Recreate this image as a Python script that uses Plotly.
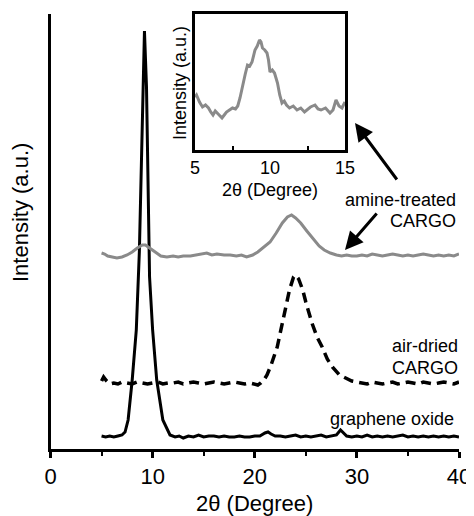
import plotly.graph_objects as go

# ---------------- data ----------------
# graphene oxide (solid black)
go_x = [5.0, 5.4, 5.8, 6.2, 6.6, 7.0, 7.3, 7.6, 8.0, 8.4, 8.7, 9.0, 9.2, 9.4, 9.55, 9.7,
        10.0, 10.4, 11.0, 11.7, 12.2, 12.6, 13.0, 13.5, 14.0, 14.5, 15.0, 15.5, 16.0,
        16.5, 17.0, 17.5, 18.0, 18.5, 19.0, 19.5, 20.0, 20.5, 21.0, 21.3, 21.6, 22.0,
        22.5, 23.0, 23.5, 24.0, 24.5, 25.0, 25.5, 26.0, 26.5, 27.0, 27.5, 28.0, 28.4,
        28.7, 29.0, 29.5, 30.0, 30.5, 31.0, 31.5, 32.0, 32.5, 33.0, 33.5, 34.0, 34.5,
        35.0, 35.5, 36.0, 36.5, 37.0, 37.5, 38.0, 38.5, 39.0, 39.5, 40.0]
go_y = [11, 10, 11, 10, 11, 12, 15, 27, 67, 117, 195, 340, 416, 360, 250, 170,
        117, 67, 27, 12, 10, 11, 9, 11, 10, 12, 10, 11, 11,
        10, 11, 10, 10, 11, 10, 10, 11, 11, 14, 15, 13, 11,
        11, 10, 11, 12, 10, 11, 10, 11, 12, 10, 11, 12, 17,
        14, 11, 10, 11, 10, 12, 10, 11, 10, 11, 10, 11, 12,
        10, 11, 10, 11, 10, 11, 10, 11, 10, 11, 10]

# air-dried CARGO (dashed black)
ad_x = [5.0, 5.2, 5.5, 5.8, 6.2, 6.6, 7.0, 7.5, 8.0, 8.5, 9.0, 9.5, 10.0, 10.5, 11.0,
        11.5, 12.0, 12.5, 13.0, 13.5, 14.0, 14.5, 15.0, 15.5, 16.0, 16.5, 17.0, 17.5,
        18.0, 18.5, 19.0, 19.5, 20.0, 20.3, 20.6, 20.9, 21.2, 21.6, 22.2, 22.7, 23.1,
        23.4, 23.8, 24.0, 24.3, 24.7, 25.0, 25.6, 26.1, 26.6, 27.1, 27.6, 28.3, 29.0,
        29.5, 30.0, 30.5, 31.0, 31.5, 32.0, 32.5, 33.0, 33.5, 34.0, 34.5, 35.0, 35.5,
        36.0, 36.5, 37.0, 37.5, 38.0, 38.5, 39.0, 39.5, 40.0]
ad_y = [66, 70, 66, 63, 64, 63, 65, 64, 63, 65, 64, 63, 64, 65, 63,
        64, 64, 65, 63, 64, 65, 64, 63, 64, 65, 64, 63, 64,
        65, 64, 63, 64, 63, 62, 64, 67, 72, 82, 100, 124, 145,
        157, 170, 172, 168, 157, 145, 124, 110, 100, 88, 80, 72, 68,
        66, 65, 64, 63, 65, 64, 63, 64, 65, 63, 64, 65, 64,
        63, 65, 64, 63, 64, 65, 64, 63, 65]

# amine-treated CARGO (grey)
am_x = [5.0, 5.3, 5.6, 6.0, 6.5, 7.0, 7.5, 8.0, 8.5, 9.0, 9.3, 9.7, 10.0, 10.4, 10.8,
        11.4, 12.0, 12.5, 13.0, 13.7, 14.2, 14.8, 15.3, 15.8, 16.3, 17.0, 17.6, 18.2,
        18.7, 19.2, 19.8, 20.3, 20.8, 21.5, 22.1, 22.7, 23.2, 23.6, 24.0, 24.5, 25.1,
        25.7, 26.3, 26.8, 27.4, 28.0, 28.5, 29.0, 29.5, 30.0, 30.5, 31.0, 31.5, 32.0,
        32.5, 33.0, 33.5, 34.0, 34.5, 35.0, 35.5, 36.0, 36.5, 37.0, 37.5, 38.0, 38.5,
        39.0, 39.5, 40.0]
am_y = [194, 193, 191, 190, 189, 190, 192, 195, 199, 202, 202, 199, 197, 194, 191,
        190, 191, 190, 191, 191, 192, 193, 194, 192, 193, 192, 192, 191,
        192, 190, 192, 195, 199, 205, 214, 224, 230, 232, 229, 224, 216,
        209, 201, 197, 194, 192, 191, 192, 191, 191, 192, 191, 193, 192,
        191, 192, 193, 192, 191, 192, 191, 192, 193, 192, 191, 192, 191,
        192, 191, 193]

# inset: amine-treated CARGO between 5 and 15 degrees
in_x = [5.0, 5.1, 5.3, 5.5, 5.7, 5.9, 6.05, 6.2, 6.35, 6.5, 6.65, 6.8, 6.95, 7.1, 7.3,
        7.5, 7.7, 7.85, 8.0, 8.2, 8.35, 8.5, 8.65, 8.8, 9.0, 9.15, 9.3, 9.4, 9.5, 9.65,
        9.8, 9.9, 10.0, 10.15, 10.3, 10.4, 10.5, 10.65, 10.8, 10.95, 11.1, 11.3, 11.55,
        11.8, 12.05, 12.3, 12.5, 12.7, 13.0, 13.2, 13.4, 13.7, 14.0, 14.2, 14.4, 14.6,
        14.8, 15.0]
in_y = [53, 55, 48, 43, 45, 42, 38, 35, 39, 37, 34, 32, 35, 38, 40,
        42, 41, 44, 52, 67, 76, 85, 84, 88, 100, 104, 110, 108, 102, 100,
        97, 90, 78, 80, 77, 72, 67, 55, 47, 49, 45, 42, 44,
        40, 42, 38, 41, 43, 45, 41, 40, 42, 37, 40, 50, 44,
        42, 48]

main_x_ticks = [0, 10, 20, 30, 40]
inset_x_ticks = [5, 10, 15]

# ---------------- layout helpers ----------------
# the page body has an 8px margin, so the figure is drawn 8px in from the corner
OFF = 8
W, H = 474 - OFF, 516 - OFF
FONT = "Liberation Sans, Arial, sans-serif"
GREY = "#8a8a8a"


def px(x):
    return (x - OFF) / W


def py(y):
    return 1 - (y - OFF) / H


fig = go.Figure()
fig.add_trace(go.Scatter(x=go_x, y=go_y, mode="lines", line=dict(color="black", width=3),
                         xaxis="x", yaxis="y", showlegend=False))
fig.add_trace(go.Scatter(x=ad_x, y=ad_y, mode="lines",
                         line=dict(color="black", width=3.5, dash="10px,6px"),
                         xaxis="x", yaxis="y", showlegend=False))
fig.add_trace(go.Scatter(x=am_x, y=am_y, mode="lines", line=dict(color=GREY, width=3),
                         xaxis="x", yaxis="y", showlegend=False))
fig.add_trace(go.Scatter(x=in_x, y=in_y, mode="lines", line=dict(color=GREY, width=3),
                         xaxis="x2", yaxis="y2", showlegend=False))

annotations = []


def label(text, x, y, size=18, xanchor="right", angle=0):
    annotations.append(dict(text=text, x=px(x), y=py(y), xref="paper", yref="paper",
                            xanchor=xanchor, yanchor="middle", showarrow=False,
                            textangle=angle, font=dict(family=FONT, size=size, color="black")))


label("amine-treated", 458, 200)
label("CARGO", 458, 221)
label("air-dried", 460, 346)
label("CARGO", 460, 368)
label("graphene oxide", 456, 419)
label("2θ (Degree)", 254, 503, size=22, xanchor="center")
label("Intensity (a.u.)", 21, 213, size=22, xanchor="center", angle=-90)
label("2θ (Degree)", 270, 190, size=18, xanchor="center")
label("Intensity (a.u.)", 180, 83, size=18, xanchor="center", angle=-90)


def arrow(tip, tail):
    annotations.append(dict(text="", x=px(tip[0]), y=py(tip[1]), xref="paper", yref="paper",
                            ax=tail[0] - tip[0], ay=tail[1] - tip[1], axref="pixel", ayref="pixel",
                            showarrow=True, arrowhead=2, arrowsize=1.2, arrowwidth=3,
                            arrowcolor="black"))


arrow((345, 250), (378, 212))
arrow((355, 123), (398, 181))

fig.update_layout(
    template="none",
    width=W, height=H, autosize=False,
    margin=dict(l=0, r=0, t=0, b=0, pad=0, autoexpand=False),
    paper_bgcolor="white", plot_bgcolor="rgba(0,0,0,0)",
    font=dict(family=FONT, color="black"),
    annotations=annotations,
    xaxis=dict(domain=[px(50.5), px(459)], range=[0, 40], tickvals=main_x_ticks,
               ticks="outside", ticklen=6, tickwidth=3, tickcolor="black",
               showline=True, linewidth=3, linecolor="black", showgrid=False, zeroline=False,
               automargin=False,
               tickfont=dict(family=FONT, size=22, color="black"),
               minor=dict(tickvals=[5, 15, 25, 35], ticks="outside", ticklen=4, tickwidth=2,
                          tickcolor="black", showgrid=False),
               anchor="y"),
    yaxis=dict(domain=[py(449), py(14)], range=[-2, 433], showticklabels=False, ticks="",
               showline=True, linewidth=3, linecolor="black", showgrid=False, zeroline=False,
               automargin=False, anchor="x"),
    xaxis2=dict(domain=[px(195), px(345)], range=[5, 15], tickvals=inset_x_ticks,
                ticks="", showline=True, mirror=True, linewidth=2.5, linecolor="black",
                showgrid=False, zeroline=False, automargin=False,
                tickfont=dict(family=FONT, size=18, color="black"),
                minor=dict(tickvals=[7.5, 12.5], ticks="inside", ticklen=4, tickwidth=2,
                           tickcolor="black", showgrid=False),
                anchor="y2"),
    yaxis2=dict(domain=[py(150), py(14)], range=[0, 136], showticklabels=False, ticks="",
                showline=True, mirror=True, linewidth=2.5, linecolor="black",
                showgrid=False, zeroline=False, automargin=False, anchor="x2"),
)

fig.write_html("out.html")
